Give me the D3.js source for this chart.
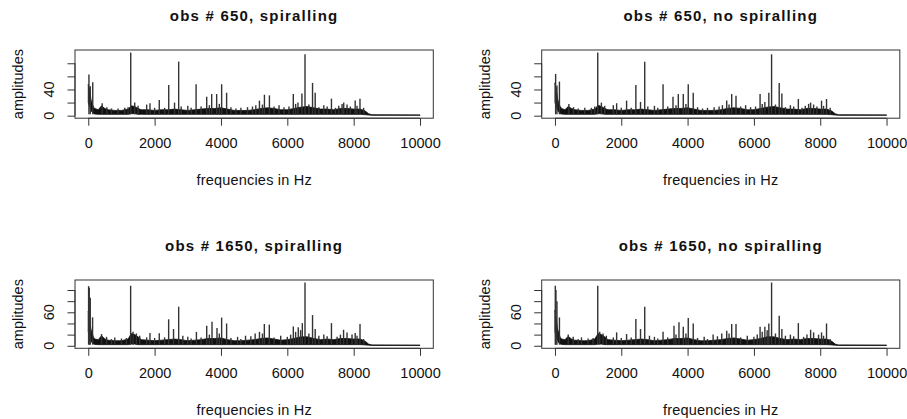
<!DOCTYPE html>
<html><head><meta charset="utf-8">
<script src="https://cdn.jsdelivr.net/npm/d3@7"></script>
<style>
html,body{margin:0;padding:0;background:#fff;}
svg{display:block;font-family:"Liberation Sans",Arial,Helvetica,sans-serif;}
</style></head>
<body><svg id="chart" width="907" height="419"></svg>
<script>
// ---------- data ----------
const titles = ["obs # 650, spiralling", "obs # 650, no spiralling",
                "obs # 1650, spiralling", "obs # 1650, no spiralling"];
const xLabel = "frequencies in Hz";
const yLabel = "amplitudes";
const xTicks = [0, 2000, 4000, 6000, 8000, 10000];
const yTicksTop = [0, 20, 40, 60, 80];
const yTickLabelsTop = [0, 40];
const yTicksBottom = [0, 20, 40, 60, 80, 100];
const yTickLabelsBottom = [0, 60];
const yMaxTop = 96.4;
const yMaxBottom = 113.4;

// dense noise band: frequencies and upper/lower envelopes
const bandHz = [0,40,80,120,160,200,300,400,500,600,800,1000,1200,1300,1400,1500,1600,1800,2000,2200,2400,2600,2800,3000,3200,3400,3600,3800,4000,4200,4400,4600,4800,5000,5200,5400,5600,5800,6000,6200,6400,6600,6800,7000,7200,7400,7600,7800,8000,8200,8350,8450,8550,10000];
const bandHiTL = [48,40,25,18,13,11,9,15,11,9,8,8,10,15,14,11,9,9,8,9,9,10,9,8,9,10,11,11,12,10,8,8,8,9,11,12,11,9,9,11,13,14,12,10,10,9,11,11,10,10,7,3,1.4,1.2];
const bandLoTL = [20,14,8,5,3,2.5,2,2,2,2,2,2,2,3,3,2,2,2,2,2,2,2,2,2,2,2,2,2,2,2,2,2,2,2,2,2,2,2,2,2,2,2,2,2,2,2,2,2,2,2,1.5,1,0.6,0.6];
const bandHiTR = [50,41,26,18,14,11,9,14,11,9,8,8,10,16,14,11,9,9,8,9,9,10,9,8,9,10,11,11,12,10,8,8,8,9,11,12,11,9,9,11,13,14,12,10,10,9,11,11,10,10,7,3,1.4,1.2];
const bandLoTR = bandLoTL;
const bandHiBL = [62,45,30,22,15,12,11,18,12,10,9,9,12,22,20,16,11,10,9,10,11,12,11,9,10,11,13,13,14,11,9,9,10,11,13,14,12,10,11,13,16,16,13,11,12,11,13,13,12,12,8,3,1.6,1.2];
const bandLoBL = [25,16,9,5,3,2.5,2,2,2,2,2,2,2,3,3,2,2,2,2,2,2,2,2,2,2,2,2,2,2,2,2,2,2,2,2,2,2,2,2,2,2,2,2,2,2,2,2,2,2,2,1.5,1,0.6,0.6];
const bandHiBR = [64,46,30,22,15,12,11,17,12,10,9,9,12,22,20,16,11,10,9,10,11,12,11,9,10,11,13,13,14,11,9,9,10,11,13,14,12,10,11,13,16,16,13,11,12,11,13,13,12,12,8,3,1.6,1.2];
const bandLoBR = bandLoBL;

// spectral peaks [frequency Hz, amplitude]
const peaksTL = [[20,63],[60,45],[135,51],[420,19],[560,13],[700,11],[900,11],[1100,12],[1200,13],[1280,96.4],[1400,20],[1500,15],[1760,17],[1860,19],[2000,12],[2140,24],[2300,12],[2425,47],[2600,20],[2725,82.5],[2800,14],[3000,15],[3100,12],[3250,48],[3400,14],[3570,29],[3650,16],[3720,33],[3870,33],[3950,18],[4020,48],[4170,35],[4300,13],[4450,11],[4600,12],[4800,13],[4950,14],[5050,16],[5160,23],[5250,17],[5310,32],[5460,31],[5600,14],[5750,16],[5900,13],[6050,14],[6180,33],[6250,18],[6320,20],[6440,34],[6533,93.7],[6650,17],[6760,50],[6840,35],[6950,13],[7100,16],[7200,14],[7330,26],[7450,12],[7550,15],[7650,18],[7700,20],[7800,17],[7900,14],[8045,23],[8100,15],[8190,26],[8300,12]];
const peaksTR = [[20,63.7],[60,46],[135,52],[420,18],[560,13],[700,11],[900,12],[1100,12],[1200,14],[1290,96.4],[1400,20],[1500,15],[1760,16],[1860,19],[2000,12],[2160,23],[2300,12],[2440,47],[2580,21],[2707,82.5],[2800,14],[3000,15],[3100,12],[3260,48],[3400,14],[3560,29],[3650,16],[3720,33],[3870,33],[3950,18],[4020,48],[4170,35],[4300,13],[4450,11],[4600,12],[4800,13],[4950,14],[5050,16],[5180,23],[5250,17],[5330,33],[5460,30.6],[5600,14],[5750,16],[5900,13],[6050,14],[6186,33],[6250,18],[6330,21],[6450,35],[6533,93.7],[6650,17],[6763,50],[6843,34],[6950,13],[7100,16],[7200,14],[7340,25.5],[7450,12],[7550,15],[7650,18],[7710,20],[7800,17],[7900,14],[8040,23],[8100,15],[8190,25.5],[8300,12]];
const peaksBL = [[10,107],[30,104],[60,86],[130,51],[400,21],[550,16],[700,12],[800,15],[1000,13],[1150,14],[1277,107.6],[1350,25],[1450,22],[1550,18],[1760,15],[1860,23],[2000,14],[2140,22.5],[2300,15],[2423,47.5],[2570,30],[2725,70],[2850,18],[3000,16],[3100,13],[3260,25],[3400,15],[3570,36],[3650,20],[3730,43],[3880,32],[3950,22],[4020,50.5],[4170,40],[4300,14],[4500,16],[4600,12],[4740,18],[4900,17],[5030,22],[5160,25],[5250,22],[5307,39],[5457,38],[5600,15],[5800,18],[6000,16],[6100,20],[6181,34.7],[6250,25],[6330,33],[6400,28],[6452,40.6],[6533,113.4],[6650,22],[6760,55],[6840,30],[6950,18],[7100,20],[7200,17],[7330,40.6],[7500,16],[7600,20],[7695,28.7],[7800,24],[7950,20],[8045,23],[8100,18],[8191,39],[8300,12]];
const peaksBR = [[10,107.6],[30,100],[60,80],[135,50.8],[400,20],[550,16],[700,12],[800,15],[1000,13],[1150,14],[1290,107.6],[1350,25],[1450,22],[1550,18],[1760,15],[1860,24],[2000,14],[2160,21],[2300,15],[2440,48],[2580,30],[2707,70],[2850,18],[3000,16],[3100,13],[3260,25],[3400,15],[3590,36],[3650,20],[3740,42],[3870,34],[3950,22],[4020,50],[4170,40],[4300,14],[4500,16],[4600,12],[4770,20],[4900,17],[5030,22],[5180,27],[5250,22],[5330,39],[5460,39],[5600,15],[5800,18],[6000,16],[6100,20],[6186,34],[6250,25],[6330,34],[6400,28],[6450,40],[6533,113.4],[6650,22],[6763,54],[6843,30],[6950,18],[7100,20],[7200,17],[7340,40.6],[7500,16],[7600,20],[7710,28.7],[7800,24],[7950,20],[8040,24],[8100,18],[8190,40],[8300,12]];

// ---------- layout ----------
const svg = d3.select("#chart");
const cols = [{l: 75, r: 433.3}, {l: 541.7, r: 899.8}];
const rows = [{t: 50, b: 118.2}, {t: 280, b: 348.3}];
const fontStack = '"Liberation Sans", Arial, Helvetica, sans-serif';

const panels = [
  {title: titles[0], col: 0, row: 0, hi: bandHiTL, lo: bandLoTL, peaks: peaksTL, ymax: yMaxTop, yt: yTicksTop, ytl: yTickLabelsTop},
  {title: titles[1], col: 1, row: 0, hi: bandHiTR, lo: bandLoTR, peaks: peaksTR, ymax: yMaxTop, yt: yTicksTop, ytl: yTickLabelsTop},
  {title: titles[2], col: 0, row: 1, hi: bandHiBL, lo: bandLoBL, peaks: peaksBL, ymax: yMaxBottom, yt: yTicksBottom, ytl: yTickLabelsBottom},
  {title: titles[3], col: 1, row: 1, hi: bandHiBR, lo: bandLoBR, peaks: peaksBR, ymax: yMaxBottom, yt: yTicksBottom, ytl: yTickLabelsBottom}
];

panels.forEach(p => {
  const c = cols[p.col], r = rows[p.row];
  const x = d3.scaleLinear().domain([-400, 10400]).range([c.l, c.r]);
  const y = d3.scaleLinear().domain([-0.04 * p.ymax, 1.04 * p.ymax]).range([r.b, r.t]);
  const g = svg.append("g");

  // band
  const band = bandHz.map((f, i) => ({f, hi: p.hi[i], lo: p.lo[i]}));
  g.append("path")
    .attr("d", d3.area().x(d => x(d.f)).y0(d => y(d.lo)).y1(d => y(d.hi))(band))
    .attr("fill", "#111").attr("stroke", "#111").attr("stroke-width", 0.8);

  // peaks
  g.selectAll("line.pk").data(p.peaks).enter().append("line")
    .attr("x1", d => x(d[0])).attr("x2", d => x(d[0]))
    .attr("y1", y(2)).attr("y2", d => y(d[1]))
    .attr("stroke", "#333").attr("stroke-width", 1.4);

  // box
  g.append("rect").attr("x", c.l).attr("y", r.t)
    .attr("width", c.r - c.l).attr("height", r.b - r.t)
    .attr("fill", "none").attr("stroke", "#333").attr("stroke-width", 1);

  // x axis
  const xa = svg.append("g").attr("transform", `translate(0,${r.b})`)
    .call(d3.axisBottom(x).tickValues(xTicks).tickSize(7.5).tickPadding(12).tickSizeOuter(0).tickFormat(d3.format("d")));
  xa.select(".domain").attr("d", `M${x(0)},0H${x(10000)}`).attr("stroke", "#333");
  xa.selectAll(".tick line").attr("stroke", "#333");
  xa.selectAll(".tick text").attr("font-size", "14.5px").attr("font-family", fontStack).attr("fill", "#111");

  // y axis
  const ya = svg.append("g").attr("transform", `translate(${c.l},0)`)
    .call(d3.axisLeft(y).tickValues(p.yt).tickSize(7.5).tickSizeOuter(0).tickFormat(""));
  ya.select(".domain").attr("d", `M0,${y(p.yt[0])}V${y(p.yt[p.yt.length - 1])}`).attr("stroke", "#333");
  ya.selectAll(".tick line").attr("stroke", "#333");
  g.selectAll("text.yl").data(p.ytl).enter().append("text")
    .attr("transform", d => `translate(${c.l - 21},${y(d)}) rotate(-90)`)
    .attr("text-anchor", "middle").attr("font-size", "14.5px").attr("fill", "#111")
    .text(d => d);

  // titles and labels
  const cx = (c.l + c.r) / 2;
  g.append("text").attr("x", cx).attr("y", r.t - 29)
    .attr("text-anchor", "middle").attr("font-weight", "bold").attr("font-size", "15px")
    .attr("letter-spacing", "1.2px").attr("fill", "#111").text(p.title);
  g.append("text").attr("x", cx).attr("y", r.b + 67)
    .attr("text-anchor", "middle").attr("font-size", "14.5px").attr("letter-spacing", "0.2px")
    .attr("fill", "#111").text(xLabel);
  g.append("text").attr("transform", `translate(${c.l - 52},${(r.t + r.b) / 2}) rotate(-90)`)
    .attr("text-anchor", "middle").attr("font-size", "14.5px").attr("fill", "#111").text(yLabel);
});
</script></body></html>
